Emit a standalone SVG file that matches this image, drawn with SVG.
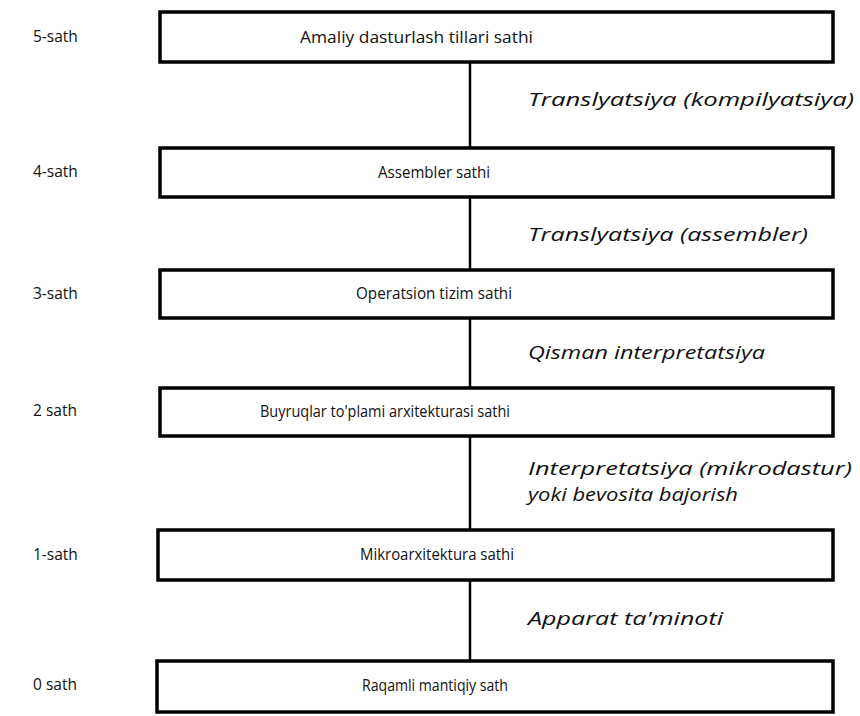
<svg xmlns="http://www.w3.org/2000/svg" width="860" height="716" viewBox="0 0 860 716">
<style>
.box{fill:#fff;stroke:#000;stroke-width:3.5}
.t{font-family:"Open Sans","DejaVu Sans",sans-serif;font-size:16px;fill:#111;dominant-baseline:middle}
.lv{font-family:"Open Sans","DejaVu Sans",sans-serif;font-size:15.5px;fill:#111;dominant-baseline:middle}
.lb{font-family:"Open Sans","DejaVu Sans",sans-serif;font-size:18px;font-style:italic;font-weight:500;fill:#111;dominant-baseline:middle}
.c{stroke:#000;stroke-width:2.5;fill:none}
</style>
<rect width="860" height="716" fill="#fff"/>
<g id="connectors">
<line class="c" x1="470" y1="63" x2="470" y2="148"/>
<line class="c" x1="470" y1="197" x2="470" y2="270"/>
<line class="c" x1="470" y1="318" x2="470" y2="388"/>
<line class="c" x1="470" y1="436" x2="470" y2="530"/>
<line class="c" x1="470" y1="580" x2="470" y2="661"/>
<text class="lb" x="528" y="101" textLength="326" lengthAdjust="spacingAndGlyphs">Translyatsiya (kompilyatsiya)</text>
<text class="lb" x="528" y="236" textLength="280" lengthAdjust="spacingAndGlyphs">Translyatsiya (assembler)</text>
<text class="lb" x="528" y="354" textLength="237" lengthAdjust="spacingAndGlyphs">Qisman interpretatsiya</text>
<text class="lb" x="528" y="470" textLength="324" lengthAdjust="spacingAndGlyphs">Interpretatsiya (mikrodastur)</text>
<text class="lb" x="528" y="496" textLength="210" lengthAdjust="spacingAndGlyphs">yoki bevosita bajorish</text>
<text class="lb" x="528" y="620" textLength="195" lengthAdjust="spacingAndGlyphs">Apparat ta'minoti</text>
</g>
<g id="level5">
<text class="lv" x="33" y="38">5-sath</text>
<rect class="box" x="160" y="12" width="673" height="50"/>
<text class="t" x="300" y="39" textLength="233" lengthAdjust="spacingAndGlyphs">Amaliy dasturlash tillari sathi</text>
</g>
<g id="level4">
<text class="lv" x="33" y="173">4-sath</text>
<rect class="box" x="160" y="148" width="673" height="49"/>
<text class="t" x="378" y="174" textLength="112" lengthAdjust="spacingAndGlyphs">Assembler  sathi</text>
</g>
<g id="level3">
<text class="lv" x="33" y="295">3-sath</text>
<rect class="box" x="160" y="270" width="673" height="48"/>
<text class="t" x="356" y="295" textLength="156" lengthAdjust="spacingAndGlyphs">Operatsion tizim sathi</text>
</g>
<g id="level2">
<text class="lv" x="33" y="412">2 sath</text>
<rect class="box" x="160" y="388" width="673" height="48"/>
<text class="t" x="260" y="413" textLength="250" lengthAdjust="spacingAndGlyphs">Buyruqlar to'plami arxitekturasi sathi</text>
</g>
<g id="level1">
<text class="lv" x="33" y="556">1-sath</text>
<rect class="box" x="158" y="530" width="675" height="50"/>
<text class="t" x="360" y="556" textLength="154" lengthAdjust="spacingAndGlyphs">Mikroarxitektura sathi</text>
</g>
<g id="level0">
<text class="lv" x="33" y="686">0 sath</text>
<rect class="box" x="157" y="661" width="676" height="51"/>
<text class="t" x="362" y="687" textLength="146" lengthAdjust="spacingAndGlyphs">Raqamli mantiqiy sath</text>
</g>
</svg>
